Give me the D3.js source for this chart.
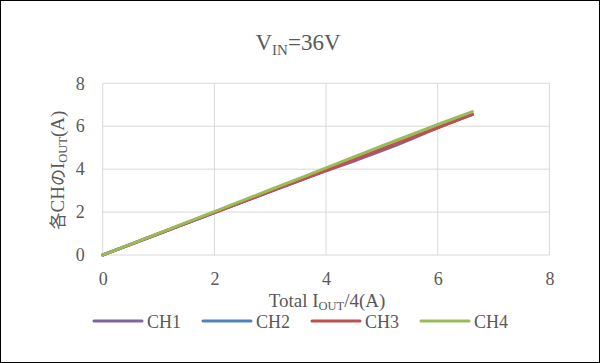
<!DOCTYPE html>
<html><head><meta charset="utf-8">
<script src="https://cdn.jsdelivr.net/npm/d3@7"></script>
<style>
html,body{margin:0;padding:0;background:#fff;}
svg{display:block;}
text{font-family:"Liberation Serif","DejaVu Serif","Noto Sans CJK JP",serif;fill:#595959;}
</style></head>
<body>
<script>
const xTicks = [0, 2, 4, 6, 8];
const yTicks = [0, 2, 4, 6, 8];
const seriesNames = ["CH1", "CH2", "CH3", "CH4"];
const seriesColors = ["#8064A2", "#4F81BD", "#C0504D", "#9BBB59"];
const xValues = [0, 1, 2, 3, 4, 4.5, 5, 5.5, 6, 6.62];
const ch1 = [0, 0.99, 1.98, 2.95, 3.92, 4.38, 4.86, 5.38, 5.94, 6.54];
const ch2 = [0, 0.99, 1.98, 2.96, 3.94, 4.44, 4.94, 5.44, 5.94, 6.56];
const ch3 = [0, 0.99, 1.98, 2.96, 3.94, 4.43, 4.93, 5.43, 5.93, 6.55];
const ch4 = [0, 1.01, 2.02, 3.04, 4.06, 4.57, 5.08, 5.58, 6.08, 6.68];
const seriesValues = [ch1, ch2, ch3, ch4];

const W = 600, H = 363;
const svg = d3.select("body").append("svg").attr("width", W).attr("height", H);
svg.append("rect").attr("x", 0.5).attr("y", 0.5).attr("width", W - 1).attr("height", H - 1)
  .attr("fill", "#fff").attr("stroke", "#000").attr("stroke-width", 1);

const x = d3.scaleLinear().domain([0, 8]).range([102.7, 549.4]);
const y = d3.scaleLinear().domain([0, 8]).range([255, 83.3]);

// gridlines
const grid = svg.append("g");
grid.selectAll("line.v").data(xTicks).join("line")
  .attr("x1", d => x(d)).attr("x2", d => x(d)).attr("y1", y(0)).attr("y2", y(8))
  .attr("stroke", "#D9D9D9").attr("stroke-width", 1);
grid.selectAll("line.h").data(yTicks).join("line")
  .attr("x1", x(0)).attr("x2", x(8)).attr("y1", d => y(d)).attr("y2", d => y(d))
  .attr("stroke", "#D9D9D9").attr("stroke-width", 1);

const tickFont = '"Liberation Serif","DejaVu Serif",serif';
// axes (labels only)
const xAxis = svg.append("g").attr("transform", `translate(0,${y(0)})`)
  .call(d3.axisBottom(x).tickValues(xTicks).tickSize(0).tickPadding(17).tickFormat(d3.format("d")));
xAxis.select(".domain").remove();
xAxis.selectAll("text").attr("font-size", 18).attr("fill", "#595959").style("font-family", tickFont);

const yAxis = svg.append("g").attr("transform", `translate(${x(0)},0)`)
  .call(d3.axisLeft(y).tickValues(yTicks).tickSize(0).tickPadding(18).tickFormat(d3.format("d")));
yAxis.select(".domain").remove();
yAxis.selectAll("text").attr("font-size", 18).attr("fill", "#595959").style("font-family", tickFont);

// lines
const line = d3.line().x((d, i) => x(xValues[i])).y(d => y(d)).curve(d3.curveMonotoneX);
svg.append("g").selectAll("path").data(seriesValues).join("path")
  .attr("d", d => line(d)).attr("fill", "none")
  .attr("stroke", (d, i) => seriesColors[i]).attr("stroke-width", 3)
  .attr("stroke-linejoin", "round").attr("stroke-linecap", "round");

// title
const title = svg.append("text").attr("x", 298).attr("y", 49.5).attr("text-anchor", "middle")
  .attr("font-size", 23);
title.append("tspan").text("V");
title.append("tspan").attr("font-size", 15).attr("dy", 5).text("IN");
title.append("tspan").attr("dy", -5).text("=36V");

// x axis title
const xt = svg.append("text").attr("x", 327).attr("y", 306.5).attr("text-anchor", "middle").attr("font-size", 19);
xt.append("tspan").text("Total I");
xt.append("tspan").attr("font-size", 12.5).attr("dy", 3).text("OUT");
xt.append("tspan").attr("dy", -3).text("/4(A)");

// y axis title
const yt = svg.append("text").attr("transform", `translate(64,170) rotate(-90)`).attr("text-anchor", "middle").attr("font-size", 19);
yt.append("tspan").style("font-family", '"Noto Sans CJK JP",serif').attr("font-size", 17).text("各");
yt.append("tspan").text("CH");
yt.append("tspan").style("font-family", '"Noto Sans CJK JP",serif').attr("font-size", 17).text("の");
yt.append("tspan").text("I");
yt.append("tspan").attr("font-size", 12.5).attr("dy", 3).text("OUT");
yt.append("tspan").attr("dy", -3).text("(A)");

// legend
const legend = svg.append("g");
const lg = legend.selectAll("g").data(seriesNames).join("g")
  .attr("transform", (d, i) => `translate(${94 + i * 109},321)`);
lg.append("line").attr("x1", 0).attr("x2", 48).attr("y1", 0).attr("y2", 0)
  .attr("stroke", (d, i) => seriesColors[i]).attr("stroke-width", 3).attr("stroke-linecap", "round");
lg.append("text").attr("x", 53).attr("y", 7).attr("font-size", 18).text(d => d);
</script>
</body></html>
